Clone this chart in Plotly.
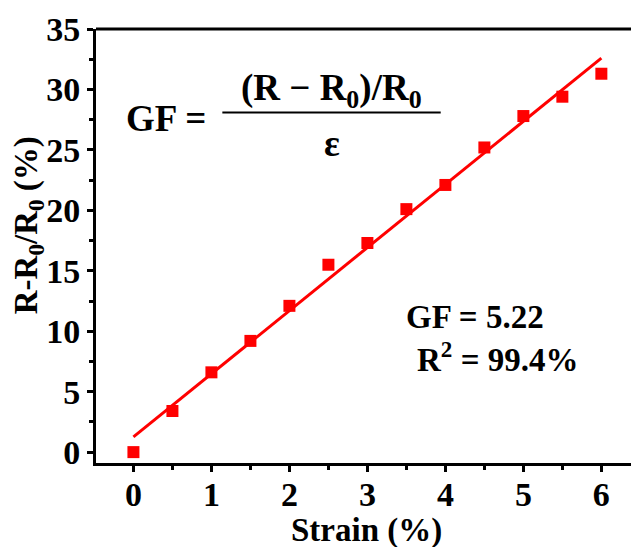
import numpy as np
import plotly.graph_objects as go

strain = [0, 0.5, 1, 1.5, 2, 2.5, 3, 3.5, 4, 4.5, 5, 5.5, 6]
resp = [0.0, 3.4, 6.6, 9.2, 12.1, 15.5, 17.3, 20.1, 22.1, 25.2, 27.8, 29.4, 31.3]
x_ticks = [0, 1, 2, 3, 4, 5, 6]
y_ticks = [0, 5, 10, 15, 20, 25, 30, 35]

slope, intercept = np.polyfit(strain, resp, 1)
fit_x = [strain[0], strain[-1]]
fit_y = [slope * v + intercept for v in fit_x]

FONT = "Liberation Serif"
fig = go.Figure()
fig.add_trace(go.Scatter(x=fit_x, y=fit_y, mode="lines",
                         line=dict(color="#ff0000", width=3), showlegend=False))
fig.add_trace(go.Scatter(x=strain, y=resp, mode="markers",
                         marker=dict(symbol="square", size=12, color="#ff0000"),
                         showlegend=False))

ann = dict(showarrow=False, font=dict(family=FONT, size=37, color="black", weight="bold"))
fig.add_annotation(x=0.42, y=27.6, text="GF =", **ann)
fig.add_annotation(x=2.54, y=29.9, text="(R\u00a0−\u00a0R<sub>0</sub>)/R<sub>0</sub>", **ann)
fig.add_annotation(x=2.54, y=25.5, text="ε", **ann)
fig.add_shape(type="line", x0=1.14, x1=3.94, y0=28.1, y1=28.1,
              line=dict(color="black", width=2))
ann2 = dict(showarrow=False, font=dict(family=FONT, size=33, color="black", weight="bold"))
fig.add_annotation(x=4.38, y=11.2, text="GF = 5.22", **ann2)
fig.add_annotation(x=4.67, y=7.9, text="R<sup>2</sup> = 99.4%", **ann2)

title_font = dict(family=FONT, size=33, color="black", weight="bold")
fig.add_annotation(xref="paper", yref="paper", x=0.505, y=-0.155, text="Strain (%)",
                   showarrow=False, xanchor="center", yanchor="middle", font=title_font)
fig.add_annotation(xref="paper", yref="paper", x=-0.127, y=0.548,
                   text="R-R<sub>0</sub>/R<sub>0</sub> (%)", textangle=-90,
                   showarrow=False, xanchor="center", yanchor="middle", font=title_font)

axis_common = dict(showgrid=False, zeroline=False, showline=True, linecolor="black",
                   linewidth=3, ticks="outside", ticklen=6, tickwidth=3,
                   tickcolor="black", automargin=False,
                   tickfont=dict(family=FONT, size=34, color="black", weight="bold"))
fig.update_xaxes(range=[-0.48, 6.38], tickvals=x_ticks, mirror=False, ticklabelstandoff=-7,
                 minor=dict(dtick=0.5, ticks="outside", ticklen=4, tickwidth=3, tickcolor="black"),
                 **axis_common)
fig.update_yaxes(range=[-0.9, 35], tickvals=y_ticks,
                 minor=dict(dtick=2.5, ticks="outside", ticklen=4, tickwidth=3, tickcolor="black"),
                 **axis_common)
fig.add_shape(type="line", xref="paper", yref="paper", x0=0, x1=1, y0=1, y1=1,
              line=dict(color="black", width=3))

fig.update_layout(template="none", width=631, height=547,
                  margin=dict(l=96, r=0, t=29, b=84, autoexpand=False),
                  plot_bgcolor="white", paper_bgcolor="white",
                  font=dict(family=FONT, color="black"))
fig.write_html("out.html", config={"displayModeBar": False},
               post_script="document.body.style.margin='0';document.body.style.overflow='hidden';")
